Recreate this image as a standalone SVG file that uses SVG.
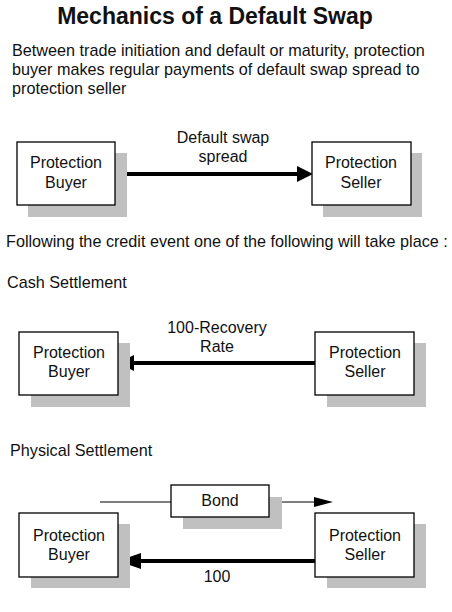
<svg xmlns="http://www.w3.org/2000/svg" width="452" height="612" viewBox="0 0 452 612">
<style>
text{font-family:"Liberation Sans",Arial,sans-serif;fill:#111;}
.t{font-size:16.2px;}
.c{text-anchor:middle;font-size:16px;}
.box{fill:#fff;stroke:#000;stroke-width:1.3;}
.sh{fill:#c0c0c0;}
.thick{stroke:#000;stroke-width:4;fill:none;}
.thin{stroke:#000;stroke-width:1.2;fill:none;}
</style>
<rect width="452" height="612" fill="#fff"/>
<text x="215" y="24" text-anchor="middle" font-size="23" font-weight="bold">Mechanics of a Default Swap</text>
<text class="t" x="12" y="56">Between trade initiation and default or maturity, protection</text>
<text class="t" x="12" y="75">buyer makes regular payments of default swap spread to</text>
<text class="t" x="12" y="94">protection seller</text>
<text class="t" x="6" y="247">Following the credit event one of the following will take place :</text>
<text class="t" x="7" y="288">Cash Settlement</text>
<text class="t" x="10" y="456">Physical Settlement</text>

<g id="connectors">
<line class="thick" x1="127" y1="174" x2="298" y2="174"/>
<polygon points="297,166 313,174 297,182" fill="#000"/>
<text class="c" x="223" y="143">Default swap</text>
<text class="c" x="223" y="162">spread</text>

<line class="thick" x1="316" y1="363" x2="133" y2="363"/>
<polygon points="134,355 118,363 134,371" fill="#000"/>
<text class="c" x="217" y="333">100-Recovery</text>
<text class="c" x="217" y="352">Rate</text>

<line class="thin" x1="100" y1="502" x2="171" y2="502"/>
<line class="thin" x1="269" y1="502" x2="316" y2="502"/>
<polygon points="314,497 333,502 314,507" fill="#000"/>

<line class="thick" x1="316" y1="561" x2="140" y2="561"/>
<polygon points="141,553 118,561 141,569" fill="#000"/>
<text class="c" x="217" y="582">100</text>
</g>

<g id="bond">
<rect class="sh" x="183" y="497" width="99" height="32"/>
<rect class="box" x="171" y="485" width="98" height="32"/>
<text class="c" x="220" y="506">Bond</text>
</g>

<g id="buyer1">
<rect class="sh" x="28" y="153" width="99" height="64"/>
<rect class="box" x="17" y="142" width="98" height="63"/>
<text class="c" x="66" y="168">Protection</text>
<text class="c" x="66" y="188">Buyer</text>
</g>
<g id="seller1">
<rect class="sh" x="323" y="153" width="99" height="64"/>
<rect class="box" x="312" y="142" width="99" height="63"/>
<text class="c" x="361" y="168">Protection</text>
<text class="c" x="361" y="188">Seller</text>
</g>

<g id="buyer2">
<rect class="sh" x="31" y="343" width="99" height="64"/>
<rect class="box" x="19" y="332" width="99" height="63"/>
<text class="c" x="69" y="358">Protection</text>
<text class="c" x="69" y="377">Buyer</text>
</g>
<g id="seller2">
<rect class="sh" x="327" y="343" width="99" height="64"/>
<rect class="box" x="315" y="332" width="99" height="63"/>
<text class="c" x="365" y="358">Protection</text>
<text class="c" x="365" y="377">Seller</text>
</g>

<g id="buyer3">
<rect class="sh" x="31" y="524" width="99" height="64"/>
<rect class="box" x="19" y="513" width="99" height="64"/>
<text class="c" x="69" y="541">Protection</text>
<text class="c" x="69" y="560">Buyer</text>
</g>
<g id="seller3">
<rect class="sh" x="327" y="524" width="99" height="64"/>
<rect class="box" x="315" y="513" width="99" height="64"/>
<text class="c" x="365" y="541">Protection</text>
<text class="c" x="365" y="560">Seller</text>
</g>
</svg>
